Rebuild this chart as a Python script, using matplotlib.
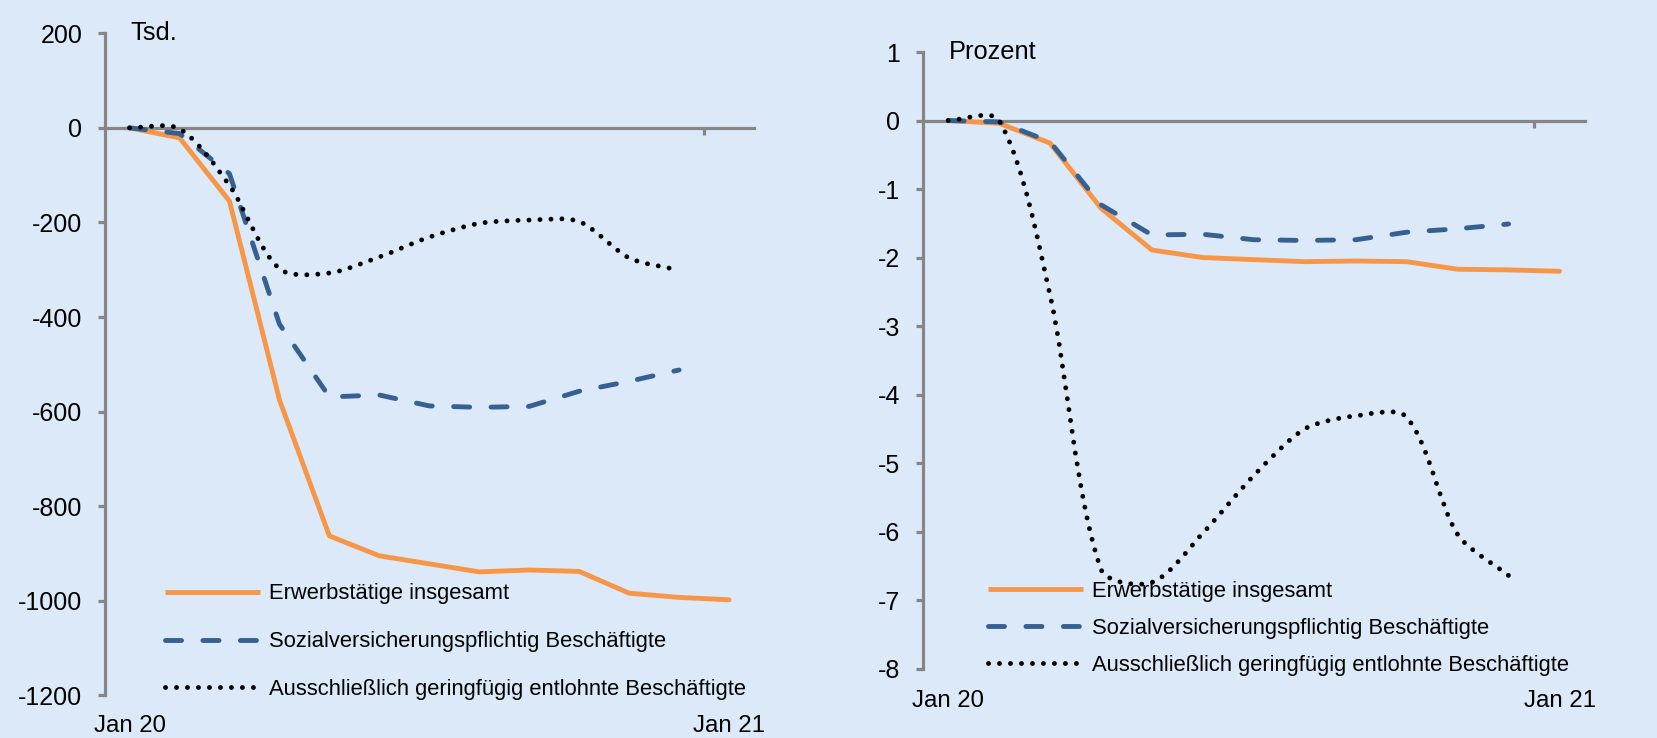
import numpy as np
import matplotlib
matplotlib.use('Agg')
import matplotlib.pyplot as plt
from matplotlib.path import Path
from matplotlib.patches import PathPatch
from matplotlib.lines import Line2D
import matplotlib.transforms as mtransforms

# ---------------- data ----------------
months = ['Jan 20', 'Feb 20', 'Mar 20', 'Apr 20', 'May 20', 'Jun 20', 'Jul 20',
          'Aug 20', 'Sep 20', 'Oct 20', 'Nov 20', 'Dec 20', 'Jan 21']
xtick_labels = ['Jan 20', 'Jan 21']
series_labels = ['Erwerbstätige insgesamt',
                 'Sozialversicherungspflichtig Beschäftigte',
                 'Ausschließlich geringfügig entlohnte Beschäftigte']

# left panel: change in thousands
tsd_erwerb = [0, -21, -155, -575, -863, -905, -922, -939, -935, -938, -984, -993, -998]
tsd_svb = [0, -12, -97, -415, -569, -565, -588, -591, -589, -557, -536, -512]
tsd_gb = [0, -2, -122, -298, -307, -273, -231, -202, -195, -198, -275, -301]

# right panel: change in percent
pct_erwerb = [0, -0.04, -0.33, -1.28, -1.89, -2.00, -2.03, -2.06, -2.05, -2.06, -2.17, -2.18, -2.20]
pct_svb = [0, -0.02, -0.31, -1.23, -1.67, -1.66, -1.74, -1.75, -1.74, -1.63, -1.58, -1.51]
pct_gb = [0, 0.0, -2.55, -6.55, -6.74, -6.02, -5.18, -4.50, -4.31, -4.33, -6.04, -6.64]

left_yticks = [200, 0, -200, -400, -600, -800, -1000, -1200]
right_yticks = [1, 0, -1, -2, -3, -4, -5, -6, -7, -8]

# ---------------- style ----------------
BG = '#DCE9F8'
ORANGE = '#F79646'
BLUE = '#376092'
GRAY = '#868686'

plt.rcParams['font.family'] = ['Liberation Sans', 'DejaVu Sans']
plt.rcParams['axes.unicode_minus'] = False

YTICK_FS = 18
XTICK_FS = 17.3
UNIT_FS = 18.3
LEG_FS = 15.8
LW = 3.5
DASH = (0, (3.3, 4.4))
DOT = (0, (0.01, 2.25))

fig = plt.figure(figsize=(16.57, 7.38), dpi=100, facecolor=BG)


def smooth_path(ax, x, y, k=0.27):
    pts = ax.transData.transform(np.column_stack([x, y]))
    n = len(pts)
    verts = [pts[0]]
    codes = [Path.MOVETO]
    for i in range(n - 1):
        p0, p1 = pts[i], pts[i + 1]
        prev = pts[i - 1] if i > 0 else pts[i]
        nxt = pts[i + 2] if i + 2 < n else pts[i + 1]
        seg = np.hypot(*(p1 - p0))
        d0 = p1 - prev
        d0 = d0 / np.hypot(*d0)
        d1 = nxt - p0
        d1 = d1 / np.hypot(*d1)
        verts += [p0 + d0 * seg * k, p1 - d1 * seg * k, p1]
        codes += [Path.CURVE4] * 3
    verts = ax.transData.inverted().transform(np.array(verts))
    return Path(verts, codes)


def panel(rect, ylim, yticks, unit, erwerb, svb, gb, leg_anchor, leg_spacing, xpad):
    ax = fig.add_axes(rect)
    ax.patch.set_alpha(0)
    ax.set_xlim(-0.5, len(months) - 0.5)
    ax.set_ylim(*ylim)

    for s in ['top', 'right']:
        ax.spines[s].set_visible(False)
    ax.spines['left'].set_color(GRAY)
    ax.spines['left'].set_linewidth(2.3)
    ax.spines['bottom'].set_position(('data', 0))
    ax.spines['bottom'].set_color(GRAY)
    ax.spines['bottom'].set_linewidth(2.3)

    ax.set_yticks(yticks)
    ax.set_yticklabels([str(v) for v in yticks])
    ax.tick_params(axis='y', direction='out', length=5, width=2.3, color=GRAY,
                   labelsize=YTICK_FS, labelcolor='black', pad=11)
    # one tick mark on the category axis, between Dec 20 and Jan 21
    ax.set_xticks([len(months) - 1.5])
    ax.tick_params(axis='x', direction='out', length=5, width=2.3, color=GRAY,
                   labelbottom=False)

    sec = ax.secondary_xaxis('bottom')
    sec.set_xticks([0, len(months) - 1])
    sec.set_xticklabels(xtick_labels)
    sec.tick_params(length=0, labelsize=XTICK_FS, pad=xpad)
    sec.spines['bottom'].set_visible(False)

    ax.text(0.039, yticks[0], unit,
            transform=mtransforms.blended_transform_factory(ax.transAxes, ax.transData),
            fontsize=UNIT_FS, va='center', ha='left')

    x_all = np.arange(len(months))
    ax.plot(x_all[:len(erwerb)], erwerb, color=ORANGE, lw=LW, solid_joinstyle='round',
            solid_capstyle='round', zorder=3)
    ax.plot(x_all[:len(svb)], svb, color=BLUE, lw=LW, linestyle=DASH,
            dash_capstyle='round', dash_joinstyle='round', zorder=4)
    p = PathPatch(smooth_path(ax, x_all[:len(gb)], gb), fill=False, edgecolor='black',
                  lw=LW, linestyle=DOT, capstyle='round', zorder=5)
    ax.add_patch(p)

    handles = [Line2D([], [], color=ORANGE, lw=LW, solid_capstyle='butt'),
               Line2D([], [], color=BLUE, lw=LW, linestyle=DASH, dash_capstyle='round'),
               Line2D([], [], color='black', lw=LW, linestyle=DOT, dash_capstyle='round')]
    ax.legend(handles, series_labels, loc='upper left', bbox_to_anchor=leg_anchor,
              frameon=False, fontsize=LEG_FS, handlelength=4.35, handletextpad=0.4,
              labelspacing=leg_spacing, borderpad=0, borderaxespad=0)
    return ax


W, H = 1657, 738
# left panel
lx0, lx1, ly0, ly1 = 104.6, 754, 33.3, 695.3
panel([lx0 / W, 1 - ly1 / H, (lx1 - lx0) / W, (ly1 - ly0) / H], (-1200, 200), left_yticks, 'Tsd.',
      tsd_erwerb, tsd_svb, tsd_gb, (0.093, 0.169), 1.22, 14.3)
# right panel
rx0, rx1, ry0, ry1 = 922.7, 1585, 52, 668.7
panel([rx0 / W, 1 - ry1 / H, (rx1 - rx0) / W, (ry1 - ry0) / H], (-8, 1), right_yticks, 'Prozent',
      pct_erwerb, pct_svb, pct_gb, (0.0986, 0.142), 0.72, 15)

fig.savefig('out.png', dpi=100, facecolor=BG)
